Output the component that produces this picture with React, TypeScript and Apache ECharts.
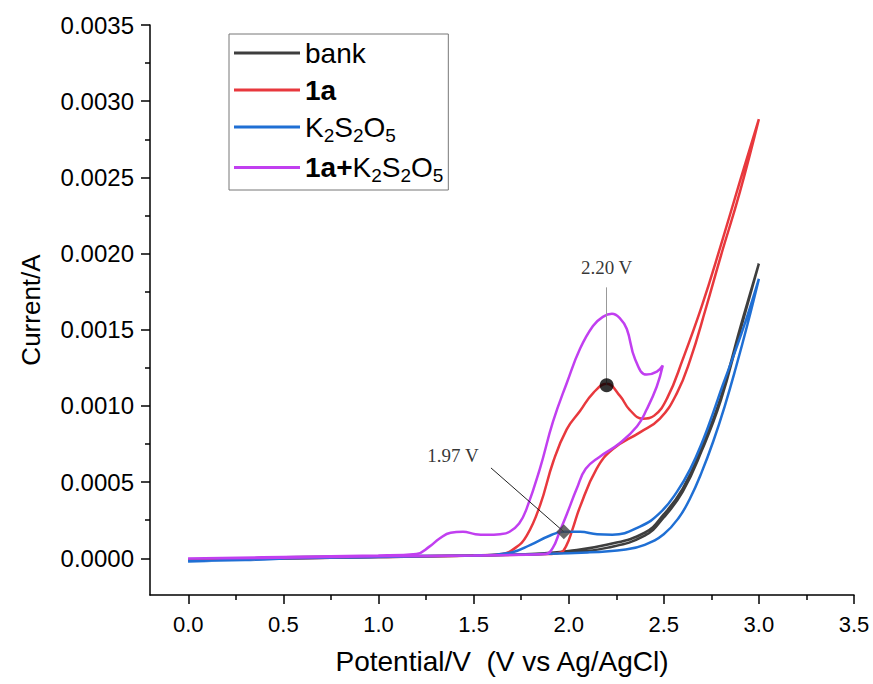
import React, { useEffect, useRef } from 'react';
import * as echarts from 'echarts';

// ---- Data (Potential / V, Current / A), one full CV cycle per curve ----
const bankV = [0, 0.3, 0.6, 1.0, 1.5, 1.8, 2.0, 2.2, 2.4, 2.5, 2.6, 2.7, 2.8, 2.9, 3.0, 2.9, 2.8, 2.7, 2.6, 2.5, 2.4, 2.2, 2.0, 1.5, 1.0, 0.5, 0];
const bankI = [-0.00002, -0.00001, 0, 0.000005, 0.00001, 0.00002, 0.00004, 0.00008, 0.00016, 0.00028, 0.00045, 0.00072, 0.00105, 0.0015, 0.00193, 0.00148, 0.00103, 0.0007, 0.00043, 0.00026, 0.00014, 0.00006, 0.00003, 0.00001, 0, -0.00001, -0.00002];

const redV = [0, 0.5, 1.0, 1.5, 1.65, 1.72, 1.78, 1.85, 1.92, 1.99, 2.06, 2.13, 2.2, 2.27, 2.32, 2.39, 2.45, 2.52, 2.6, 2.7, 2.8, 2.9, 3.0, 2.9, 2.8, 2.72, 2.64, 2.57, 2.48, 2.375, 2.233, 2.147, 2.06, 2.02, 1.99, 1.96, 1.9, 1.5, 1.0, 0.5, 0];
const redI = [-0.00002, -0.000005, 0, 0.00001, 0.00002, 0.00006, 0.00014, 0.00034, 0.00063, 0.00084, 0.00096, 0.00108, 0.00114, 0.00106, 0.00097, 0.00091, 0.00093, 0.00105, 0.0013, 0.00165, 0.00205, 0.00247, 0.00288, 0.0024, 0.00198, 0.00163, 0.0013, 0.00108, 0.00091, 0.00082, 0.00071, 0.00058, 0.00033, 0.00018, 0.00008, 0.00003, 0.00002, 0.00001, 0, -0.00001, -0.00002];

const blueV = [0, 0.3, 0.6, 1.0, 1.5, 1.7, 1.8, 1.9, 1.975, 2.06, 2.15, 2.23, 2.375, 2.48, 2.57, 2.64, 2.71, 2.76, 2.81, 2.86, 2.93, 3.0, 2.94, 2.88, 2.82, 2.76, 2.7, 2.64, 2.58, 2.5, 2.4, 2.3, 2.1, 1.5, 1.0, 0.5, 0];
const blueI = [-0.000025, -0.00002, -0.000005, 0.000005, 0.00001, 0.00003, 0.00008, 0.00014, 0.000166, 0.000166, 0.00015, 0.000147, 0.0002, 0.00029, 0.00043, 0.00058, 0.00078, 0.00095, 0.00113, 0.0013, 0.00155, 0.00183, 0.00153, 0.00125, 0.00099, 0.00076, 0.00056, 0.00039, 0.00026, 0.00015, 0.00008, 0.00005, 0.00003, 0.00001, 0, -0.00001, -0.00003];

const mixV = [0, 0.5, 1.0, 1.2, 1.27, 1.32, 1.38, 1.445, 1.51, 1.57, 1.64, 1.69, 1.74, 1.78, 1.849, 1.918, 1.992, 2.06, 2.128, 2.18, 2.228, 2.27, 2.306, 2.35, 2.41, 2.464, 2.495, 2.463, 2.41, 2.36, 2.27, 2.164, 2.09, 2.043, 1.99, 1.954, 1.917, 1.88, 1.5, 1.0, 0.5, 0];
const mixI = [-0.00001, 0, 0.00001, 0.00002, 0.00007, 0.00012, 0.00016, 0.000166, 0.00015, 0.000146, 0.00015, 0.000166, 0.00022, 0.00032, 0.00058, 0.00089, 0.00115, 0.00137, 0.00152, 0.00158, 0.0016, 0.00157, 0.0015, 0.0013, 0.0012, 0.00122, 0.00126, 0.00112, 0.00097, 0.00086, 0.00075, 0.00066, 0.00058, 0.00045, 0.00028, 0.00017, 0.00006, 0.00002, 0.00001, 0.000005, -0.000005, -0.00001];

const seriesNames = ['bank', '1a', 'K2S2O5', '1a+K2S2O5'];
const seriesColors = ['#3e3e3e', '#e8383d', '#1f6fd4', '#c13ff0'];

// annotations
const peakPoint = [2.2, 0.00113];
const peakArrowTip = [2.2, 0.001774];
const peakLabelPos = [2.2, 0.001905];
const shoulderPoint = [1.975, 0.000166];
const shoulderArrowTip = [1.592, 0.000586];
const shoulderLabelPos = [1.392, 0.000666];
const annotationTexts = ['2.20 V', '1.97 V'];

const SANS = '"Liberation Sans", Arial, Helvetica, sans-serif';
const SERIF = '"Liberation Serif", "Times New Roman", serif';

const zip = (v: number[], i: number[]) => v.map((x, k) => [x, i[k]]);

const legendFormat: Record<string, string> = {
  'bank': 'bank',
  '1a': '{b|1a}',
  'K2S2O5': 'K{s|2}S{s|2}O{s|5}',
  '1a+K2S2O5': '{b|1a+}K{s|2}S{s|2}O{s|5}',
};

export default function App() {
  const ref = useRef<HTMLDivElement>(null);
  useEffect(() => {
    if (!ref.current) return;
    const chart = echarts.init(ref.current, null, { renderer: 'svg' });
    const curves = [zip(bankV, bankI), zip(redV, redI), zip(blueV, blueI), zip(mixV, mixI)];
    const tickStyle = { color: '#000', width: 1.5 };
    const option: any = {
      animation: false,
      backgroundColor: '#fff',
      grid: [
        { left: 150, right: 19, top: 25, bottom: 89 },
        { left: 188.3, right: 19, top: 25, bottom: 125.7 },
      ],
      legend: {
        data: seriesNames,
        orient: 'vertical',
        left: 229,
        top: 34,
        icon: 'rect',
        itemWidth: 66,
        itemHeight: 3,
        itemGap: 9,
        padding: [5, 5, 5, 5],
        borderColor: '#777',
        borderWidth: 1,
        textStyle: {
          fontFamily: SANS,
          fontSize: 28,
          color: '#000',
          rich: {
            b: { fontFamily: SANS, fontSize: 28, fontWeight: 'bold', color: '#000' },
            s: { fontFamily: SANS, fontSize: 19, color: '#000', padding: [16, 0, 0, 0] },
          },
        },
        formatter: (name: string) => legendFormat[name] ?? name,
      },
      xAxis: [
        {
          gridIndex: 0, type: 'value', min: -0.2, max: 3.5,
          axisLine: { show: true, onZero: false, lineStyle: { color: '#000', width: 1.5 } },
          axisTick: { show: false }, axisLabel: { show: false }, splitLine: { show: false },
          name: 'Potential/V  (V vs Ag/AgCl)', nameLocation: 'middle', nameGap: 52,
          nameTextStyle: { fontFamily: SANS, fontSize: 28, color: '#000' },
        },
        {
          gridIndex: 1, type: 'value', min: 0, max: 3.5, interval: 0.5, offset: 36.7,
          axisLine: { show: false, onZero: false },
          axisTick: { show: true, length: 9, lineStyle: tickStyle },
          minorTick: { show: true, splitNumber: 2, length: 5, lineStyle: tickStyle },
          axisLabel: { margin: 18, fontFamily: SANS, fontSize: 22, color: '#000', formatter: (v: number) => v.toFixed(1) },
          splitLine: { show: false },
        },
      ],
      yAxis: [
        {
          gridIndex: 0, type: 'value', min: -0.00025, max: 0.0035,
          axisLine: { show: true, onZero: false, lineStyle: { color: '#000', width: 1.5 } },
          axisTick: { show: false }, axisLabel: { show: false }, splitLine: { show: false },
          name: 'Current/A', nameLocation: 'middle', nameGap: 106,
          nameTextStyle: { fontFamily: SANS, fontSize: 26, color: '#000' },
        },
        {
          gridIndex: 1, type: 'value', min: 0, max: 0.0035, interval: 0.0005, offset: 38.3,
          axisLine: { show: false, onZero: false },
          axisTick: { show: true, length: 9, lineStyle: tickStyle },
          minorTick: { show: true, splitNumber: 2, length: 5, lineStyle: tickStyle },
          axisLabel: { margin: 16, fontFamily: SANS, fontSize: 24, color: '#000', formatter: (v: number) => v.toFixed(4) },
          splitLine: { show: false },
        },
      ],
      series: [
        ...curves.map((d, k) => ({
          name: seriesNames[k],
          type: 'line',
          xAxisIndex: 0, yAxisIndex: 0,
          data: d,
          showSymbol: false,
          symbol: 'none',
          smooth: 0.45,
          color: seriesColors[k],
          lineStyle: { color: seriesColors[k], width: 2.5 },
        })),
        {
          name: 'peak', type: 'scatter', xAxisIndex: 0, yAxisIndex: 0,
          data: [peakPoint], symbol: 'circle', symbolSize: 14,
          itemStyle: { color: '#000' }, z: 5,
          markLine: {
            silent: true, symbol: ['none', 'arrow'], symbolSize: [0, 9],
            lineStyle: { color: '#999', width: 1, type: 'solid' },
            label: { show: false },
            data: [[{ coord: peakPoint }, { coord: peakArrowTip }]],
          },
        },
        {
          name: 'shoulder', type: 'scatter', xAxisIndex: 0, yAxisIndex: 0,
          data: [shoulderPoint], symbol: 'diamond', symbolSize: 15,
          itemStyle: { color: '#444' }, z: 5,
          markLine: {
            silent: true, symbol: ['none', 'arrow'], symbolSize: [0, 9],
            lineStyle: { color: '#222', width: 1, type: 'solid' },
            label: { show: false },
            data: [[{ coord: shoulderPoint }, { coord: shoulderArrowTip }]],
          },
        },
        {
          name: 'labels', type: 'scatter', xAxisIndex: 0, yAxisIndex: 0,
          symbol: 'circle', symbolSize: 1, itemStyle: { color: 'transparent' },
          data: [
            { name: annotationTexts[0], value: peakLabelPos },
            { name: annotationTexts[1], value: shoulderLabelPos },
          ],
          label: {
            show: true, position: 'inside', formatter: (p: any) => p.name,
            fontFamily: SERIF, fontSize: 19, color: '#000',
          },
        },
      ],
    };
    chart.setOption(option);
    return () => chart.dispose();
  }, []);
  return (
    <div
      ref={ref}
      style={{ position: 'fixed', left: 0, top: 0, width: 873, height: 684, background: '#fff' }}
    />
  );
}
